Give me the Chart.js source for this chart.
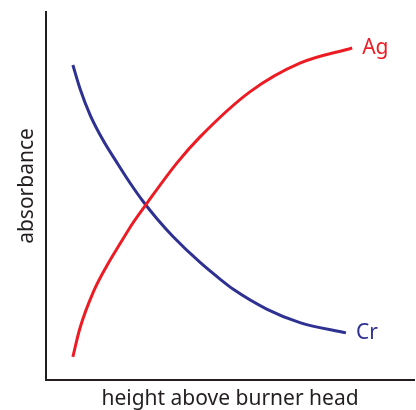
<!DOCTYPE html>
<html>
<head>
<meta charset="utf-8">
<script src="https://cdn.jsdelivr.net/npm/chart.js@4.4.1/dist/chart.umd.min.js"></script>
<style>
  html, body { margin: 0; padding: 0; background: #fff; }
  #wrap { width: 416px; height: 410px; }
</style>
</head>
<body>
<div id="wrap"><canvas id="burnerChart"></canvas></div>
<script>
// 燃烧器高度 vs 吸光度（示意曲线）
const agHeight = [7.3, 9.2, 12.9, 16.5, 20.1, 23.7, 27.4, 35.6, 41.8, 55.4, 69.0, 83.2];
const agAbs    = [6.3, 14.0, 24.0, 31.0, 37.0, 42.8, 48.0, 59.0, 66.0, 78.3, 86.1, 90.2];
const crHeight = [7.3, 9.2, 12.0, 15.6, 19.2, 22.8, 26.4, 30.1, 34.5, 41.8, 47.3, 50.8, 60.1, 69.0, 81.5];
const crAbs    = [85.6, 79.3, 72.0, 65.0, 59.2, 53.6, 48.5, 43.9, 39.0, 32.0, 27.4, 24.7, 19.2, 15.6, 12.8];
const seriesNames = ['Ag', 'Cr'];
const seriesColors = ['#ED1C24', '#2E3192'];
const xTitle = 'height above burner head';
const yTitle = 'absorbance';

const FONT = '"Noto Sans", sans-serif';
const INK = '#231F20';

const toPoints = (xs, ys) => xs.map((x, i) => ({ x: x, y: ys[i] }));

// 在每条曲线末端写上元素名，并画竖排的 y 轴标题
const curveLabels = {
    id: 'curveLabels',
    afterDatasetsDraw(chart) {
        const ctx = chart.ctx;
        ctx.save();
        ctx.font = '21px ' + FONT;
        ctx.textBaseline = 'middle';
        ctx.textAlign = 'left';
        chart.data.datasets.forEach((ds, i) => {
            const meta = chart.getDatasetMeta(i);
            const last = meta.data[meta.data.length - 1];
            ctx.fillStyle = ds.borderColor;
            ctx.fillText(seriesNames[i], last.x + 10, last.y);
        });

        // y 轴标题略高于绘图区中线
        const area = chart.chartArea;
        ctx.translate(27, (area.top + area.bottom) / 2 - 10);
        ctx.rotate(-Math.PI / 2);
        ctx.textAlign = 'center';
        ctx.fillStyle = INK;
        ctx.fillText(yTitle, 0, 0);
        ctx.restore();
    }
};

new Chart(document.getElementById('burnerChart'), {
    type: 'line',
    data: {
        datasets: [
            {
                label: seriesNames[0],
                data: toPoints(agHeight, agAbs),
                borderColor: seriesColors[0],
                borderWidth: 3,
                pointRadius: 0,
                cubicInterpolationMode: 'monotone',
                fill: false
            },
            {
                label: seriesNames[1],
                data: toPoints(crHeight, crAbs),
                borderColor: seriesColors[1],
                borderWidth: 3,
                pointRadius: 0,
                cubicInterpolationMode: 'monotone',
                fill: false
            }
        ]
    },
    options: {
        responsive: true,
        maintainAspectRatio: false,
        animation: false,
        layout: { padding: { top: 12, right: 2, left: 0, bottom: 0 } },
        plugins: {
            legend: { display: false },
            tooltip: { enabled: false }
        },
        scales: {
            x: {
                type: 'linear',
                min: 0,
                max: 100,
                grid: { display: false },
                border: { display: true, color: INK, width: 2 },
                ticks: { display: false },
                title: {
                    display: true,
                    text: xTitle,
                    color: INK,
                    font: { family: FONT, size: 21, lineHeight: 1 },
                    padding: { top: 0, bottom: 0 }
                },
                afterFit(scale) { scale.height = 30; }
            },
            y: {
                type: 'linear',
                min: 0,
                max: 100,
                grid: { display: false },
                border: { display: true, color: INK, width: 2 },
                ticks: { display: false },
                afterFit(scale) { scale.width = 46; }
            }
        }
    },
    plugins: [curveLabels]
});
</script>
</body>
</html>
